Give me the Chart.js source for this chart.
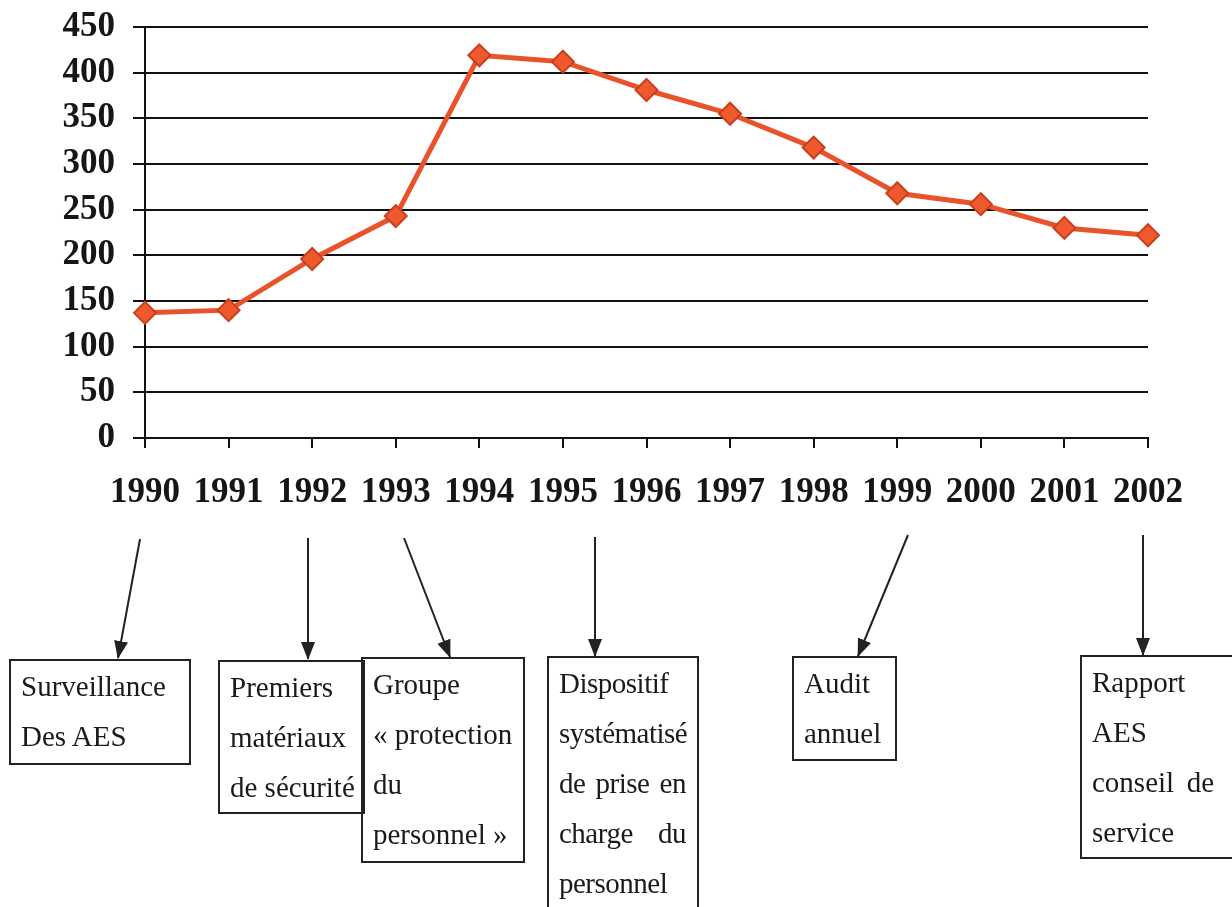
<!DOCTYPE html>
<html lang="fr">
<head>
<meta charset="utf-8">
<title>AES 1990-2002</title>
<script src="https://cdn.jsdelivr.net/npm/chart.js@4.4.0/dist/chart.umd.min.js"></script>
<style>
  html, body { margin: 0; padding: 0; background: #fff; overflow: hidden; }
  #wrap { position: relative; width: 1232px; height: 907px; }
  #chart { position: absolute; left: 0; top: 0; }
  #arrows { position: absolute; left: 0; top: 0; }
  .box {
    position: absolute;
    box-sizing: border-box;
    border: 2px solid #222;
    padding: 0 10px;
    font-family: "Liberation Serif", "Times New Roman", serif;
    font-size: 29px;
    line-height: 50px;
    color: #1a1a1a;
    white-space: nowrap;
  }
  .box .j { text-align: justify; text-align-last: justify; }
</style>
</head>
<body>
<div id="wrap">
  <canvas id="chart" width="1232" height="907"></canvas>

  <svg id="arrows" width="1232" height="907">
    <defs>
      <marker id="head" markerWidth="18" markerHeight="16" refX="17" refY="8" orient="auto" markerUnits="userSpaceOnUse">
        <path d="M0,1 L18,8 L0,15 Z" fill="#222"/>
      </marker>
    </defs>
    <g stroke="#222" stroke-width="2" marker-end="url(#head)">
      <line x1="140" y1="539" x2="118" y2="658"/>
      <line x1="308" y1="538" x2="308" y2="659"/>
      <line x1="404" y1="538" x2="450" y2="657"/>
      <line x1="595" y1="537" x2="595" y2="656"/>
      <line x1="908" y1="535" x2="858" y2="656"/>
      <line x1="1143" y1="535" x2="1143" y2="655"/>
    </g>
  </svg>

  <div class="box" style="left:9px;top:659px;width:182px;height:106px;">
    <div>Surveillance</div><div>Des AES</div>
  </div>
  <div class="box" style="left:218px;top:660px;width:147px;height:154px;">
    <div>Premiers</div><div>matériaux</div><div>de sécurité</div>
  </div>
  <div class="box" style="left:361px;top:657px;width:164px;height:206px;">
    <div>Groupe</div><div>« protection</div><div>du</div><div>personnel »</div>
  </div>
  <div class="box" style="left:547px;top:656px;width:152px;height:270px;padding-right:11px;letter-spacing:-0.5px;">
    <div>Dispositif</div><div>systématisé</div><div class="j">de prise en</div><div class="j">charge du</div><div>personnel</div>
  </div>
  <div class="box" style="left:792px;top:656px;width:105px;height:105px;">
    <div>Audit</div><div>annuel</div>
  </div>
  <div class="box" style="left:1080px;top:655px;width:162px;height:204px;padding-right:26px;">
    <div>Rapport</div><div>AES</div><div class="j">conseil de</div><div>service</div>
  </div>
</div>

<script>
// years on the x axis
const years = ["1990", "1991", "1992", "1993", "1994", "1995", "1996",
               "1997", "1998", "1999", "2000", "2001", "2002"];

// values
const aesValues = [137, 140, 196, 243, 419, 412, 381, 355, 318, 268, 256, 230, 222];

// y axis range
const yMin = 0;
const yMax = 450;
const yStep = 50;

const tickFont = { family: "'Liberation Serif', 'Times New Roman', serif", size: 35, weight: "bold" };

const ctx = document.getElementById("chart");
new Chart(ctx, {
  type: "line",
  data: {
    labels: years,
    datasets: [{
      label: "AES",
      data: aesValues,
      borderColor: "#E8532B",
      borderWidth: 5,
      backgroundColor: "#EE5A2D",
      pointStyle: "rectRot",
      pointRadius: 11,
      pointBorderWidth: 2,
      pointBorderColor: "#C9401E",
      pointBackgroundColor: "#EE5A2D",
      tension: 0,
      fill: false
    }]
  },
  options: {
    responsive: false,
    animation: false,
    layout: { padding: { top: 27, right: 84, left: 0, bottom: 0 } },
    plugins: {
      legend: { display: false },
      tooltip: { enabled: false },
      title: { display: false }
    },
    scales: {
      x: {
        offset: false,
        grid: { drawOnChartArea: false, drawTicks: true, tickLength: 10, color: "#111", lineWidth: 2 },
        border: { display: true, color: "#111", width: 2 },
        ticks: { font: tickFont, color: "#161616", padding: 24, maxRotation: 0, autoSkip: false },
        afterFit: s => { s.height = 469; s.paddingLeft = 0; s.paddingRight = 0; }
      },
      y: {
        min: yMin,
        max: yMax,
        grid: { color: "#111", lineWidth: 2, tickLength: 12 },
        border: { display: true, color: "#111", width: 2 },
        ticks: { stepSize: yStep, font: tickFont, color: "#161616", padding: 18, autoSkip: false },
        afterFit: s => { s.width = 145; s.paddingTop = 0; s.paddingBottom = 0; }
      }
    }
  }
});
</script>
</body>
</html>
